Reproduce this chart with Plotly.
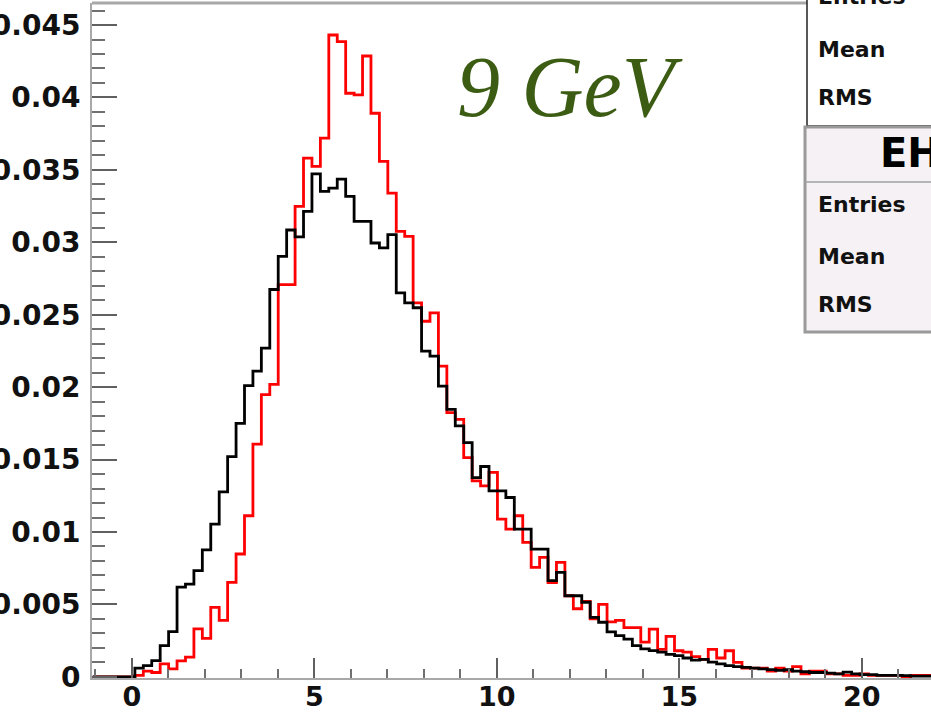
import numpy as np
import plotly.graph_objects as go

# Binning of both histograms (100 bins)
x_lo = -1.07
bin_width = 0.231

# Bin contents (normalised), black histogram
black_vals = [
    0, 0, 0, 0, 0, 0.0006, 0.00078, 0.00112, 0.00216, 0.00312,
    0.0062, 0.0064, 0.00733, 0.00876, 0.01054, 0.01277, 0.0152, 0.0175, 0.0201, 0.0211,
    0.0227, 0.02674, 0.02903, 0.03085, 0.03038, 0.03213, 0.03472, 0.03351, 0.03374, 0.03436,
    0.03317, 0.03145, 0.03145, 0.02995, 0.02961, 0.03053, 0.02651, 0.02582, 0.02548, 0.02249,
    0.02214, 0.02007, 0.01847, 0.01732, 0.01617, 0.01376, 0.01452, 0.01284, 0.01284, 0.01238,
    0.0102, 0.0102, 0.00882, 0.00882, 0.00664, 0.00721, 0.0056, 0.0056, 0.00515, 0.00411,
    0.00377, 0.0031, 0.00285, 0.0026, 0.00216, 0.00193, 0.00181, 0.0017, 0.00155, 0.00147,
    0.0013, 0.00115, 0.0012, 0.00101, 0.0009, 0.00078, 0.0007, 0.00065, 0.0006, 0.00055,
    0.0005, 0.00044, 0.0005, 0.0004, 0.00035, 0.0003, 0.0003, 0.00025, 0.00021, 0.00032,
    0.0002, 0.00015, 0.00015, 0.0001, 0.0001, 0.0001, 0.00008, 0.00005, 0.00005, 0.00005,
]

# Bin contents (normalised), red histogram
red_vals = [
    0, 0, 0, 0, 0, 0.0001, 0.0004, 0.0003, 0.0009, 0.00055,
    0.0011, 0.00136, 0.00331, 0.00265, 0.0048, 0.0039, 0.00652, 0.00848, 0.01112, 0.01606,
    0.01948, 0.02019, 0.02708, 0.02708, 0.03248, 0.03581, 0.03524, 0.03719, 0.04431, 0.04385,
    0.04029, 0.04018, 0.04286, 0.03891, 0.03558, 0.0334, 0.03076, 0.03041, 0.02582, 0.02455,
    0.02513, 0.02145, 0.01824, 0.01778, 0.01514, 0.01353, 0.01318, 0.01411, 0.01089, 0.0102,
    0.01112, 0.00928, 0.00756, 0.00825, 0.0065, 0.0079, 0.0056, 0.0047, 0.0052, 0.0040,
    0.0050, 0.0038, 0.0039, 0.0034, 0.0034, 0.0024, 0.0033, 0.0019, 0.0028, 0.0018,
    0.0017, 0.0014, 0.0012, 0.0019, 0.0013, 0.0018, 0.0010, 0.0006, 0.0006, 0.0006,
    0.0004, 0.0006, 0.0004, 0.0007, 0.0002, 0.0004, 0.0004, 0.0002, 0.0002, 0.0001,
    0.0001, 0.0002, 0.0001, 0.0001, 0.0001, 0.0001, 0.0, 0.0001, 0.0001, 0.0001,
]

y_tick_vals = [0, 0.005, 0.01, 0.015, 0.02, 0.025, 0.03, 0.035, 0.04, 0.045]
y_tick_text = ["0", "0.005", "0.01", "0.015", "0.02", "0.025", "0.03", "0.035", "0.04", "0.045"]
x_tick_vals = [0, 5, 10, 15, 20]
x_tick_text = ["0", "5", "10", "15", "20"]

title_text = "9 GeV"
stats_upper = ["Entries", "Mean", "RMS"]
stats_lower_title = "EH"
stats_lower = ["Entries", "Mean", "RMS"]

W, H = 931, 715
ML, MR, MT, MB = 92, 0, 3, 37
PW, PH = W - ML - MR, H - MT - MB
X_RANGE = [-1.09, -1.09 + PW / 36.5]
Y_RANGE = [-0.00008, 0.04652]


def px(xp):
    return (xp - ML) / PW


def py(yp):
    return (H - MB - yp) / PH


def step_xy(vals):
    n = len(vals)
    edges = x_lo + bin_width * np.arange(n + 1)
    ys = list(vals) + [vals[-1]]
    return edges, ys


fig = go.Figure()
for vals, color in [(red_vals, "#ff0000"), (black_vals, "#000000")]:
    ex, ey = step_xy(vals)
    fig.add_trace(go.Scatter(
        x=ex, y=ey, mode="lines", line=dict(color=color, width=2.8, shape="hv"),
        hoverinfo="skip", showlegend=False,
    ))

x_tick_font = dict(family="DejaVu Sans", size=27, color="#111111", weight="bold")
y_tick_font = dict(family="DejaVu Sans", size=28, color="#111111", weight="bold")
fig.update_layout(
    width=W, height=H,
    margin=dict(l=ML, r=MR, t=MT, b=MB, pad=0, autoexpand=False),
    paper_bgcolor="white", plot_bgcolor="white",
    showlegend=False,
    xaxis=dict(
        range=X_RANGE, showgrid=False, zeroline=False, automargin=False,
        showline=True, linecolor="#a8a8a8", linewidth=2,
        tickmode="array", tickvals=x_tick_vals, ticktext=x_tick_text,
        ticks="inside", ticklen=20, tickwidth=2, tickcolor="#606060",
        minor=dict(ticks="inside", ticklen=9, tickwidth=2, tickcolor="#707070", dtick=1, tick0=0),
        tickfont=x_tick_font, ticklabelstandoff=-6,
    ),
    yaxis=dict(
        range=Y_RANGE, showgrid=False, zeroline=False, automargin=False,
        showline=True, linecolor="#a8a8a8", linewidth=2,
        tickmode="array", tickvals=y_tick_vals, ticktext=y_tick_text,
        ticks="inside", ticklen=25, tickwidth=2, tickcolor="#606060",
        minor=dict(ticks="inside", ticklen=13, tickwidth=2, tickcolor="#707070", dtick=0.001, tick0=0),
        tickfont=y_tick_font, ticklabelstandoff=4,
    ),
)

shapes = []
# top frame line
shapes.append(dict(type="line", xref="paper", yref="paper", x0=0, x1=px(807), y0=py(3), y1=py(3),
                   line=dict(color="#a8a8a8", width=3)))
# upper statistics box (white)
shapes.append(dict(type="rect", xref="paper", yref="paper", x0=px(807), x1=px(945), y0=py(126), y1=py(-10),
                   fillcolor="white", line=dict(color="#222222", width=1.5)))
# lower statistics box
shapes.append(dict(type="rect", xref="paper", yref="paper", x0=px(805), x1=px(945), y0=py(332), y1=py(127),
                   fillcolor="#f6f1f4", line=dict(color="#9a9a9a", width=3)))
shapes.append(dict(type="line", xref="paper", yref="paper", x0=px(805), x1=px(945), y0=py(182), y1=py(182),
                   line=dict(color="#a0a0a0", width=1.5)))
fig.update_layout(shapes=shapes)

annotations = []
annotations.append(dict(text=title_text, x=px(455), y=py(87), xref="paper", yref="paper",
                        xanchor="left", yanchor="middle", showarrow=False,
                        font=dict(family="Liberation Serif", size=86, color="#3b5c12", style="italic")))
stat_font = dict(family="DejaVu Sans", size=22, color="#111111", weight="bold")
for label, yc in zip(stats_upper, [-3, 49, 98]):
    annotations.append(dict(text=label, x=px(816), y=py(yc), xref="paper", yref="paper",
                            xanchor="left", yanchor="middle", showarrow=False, font=stat_font))
annotations.append(dict(text=stats_lower_title, x=px(878), y=py(153), xref="paper", yref="paper",
                        xanchor="left", yanchor="middle", showarrow=False,
                        font=dict(family="DejaVu Sans", size=40, color="#000000", weight="bold")))
for label, yc in zip(stats_lower, [204, 256, 305]):
    annotations.append(dict(text=label, x=px(816), y=py(yc), xref="paper", yref="paper",
                            xanchor="left", yanchor="middle", showarrow=False, font=stat_font))
fig.update_layout(annotations=annotations)

fig.write_html("out.html")
